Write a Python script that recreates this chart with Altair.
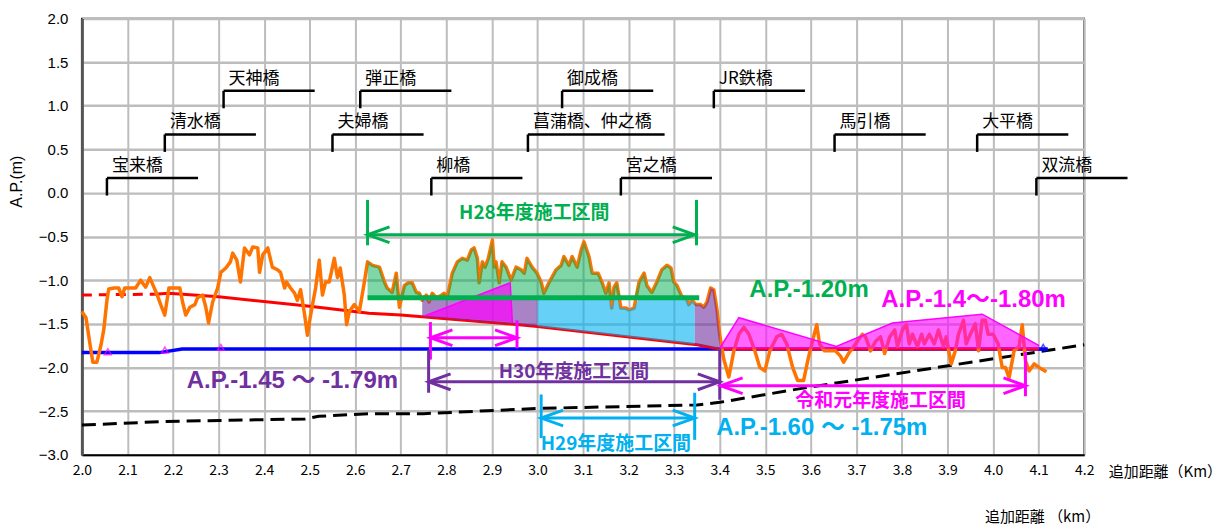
import altair as alt
import numpy as np
import pandas as pd

# ---------------- data ----------------
x_ticks = [2.0, 2.1, 2.2, 2.3, 2.4, 2.5, 2.6, 2.7, 2.8, 2.9, 3.0, 3.1, 3.2, 3.3,
           3.4, 3.5, 3.6, 3.7, 3.8, 3.9, 4.0, 4.1, 4.2]
y_ticks = [-3.0, -2.5, -2.0, -1.5, -1.0, -0.5, 0.0, 0.5, 1.0, 1.5, 2.0]

orange_km = [2.000, 2.009, 2.018, 2.024, 2.033, 2.042, 2.048, 2.055, 2.059, 2.070,
             2.081, 2.088, 2.094, 2.107, 2.118, 2.129, 2.140, 2.149, 2.158, 2.164,
             2.173, 2.182, 2.191, 2.204, 2.215, 2.221, 2.228, 2.237, 2.248, 2.254,
             2.265, 2.272, 2.278, 2.287, 2.298, 2.305, 2.316, 2.326, 2.331, 2.340,
             2.348, 2.357, 2.368, 2.375, 2.386, 2.390, 2.397, 2.408, 2.418, 2.429,
             2.436, 2.445, 2.449, 2.458, 2.467, 2.473, 2.480, 2.489, 2.495, 2.502,
             2.513, 2.521, 2.528, 2.535, 2.543, 2.554, 2.561, 2.567, 2.576, 2.581,
             2.587, 2.598, 2.609, 2.620, 2.627, 2.638, 2.653, 2.664, 2.670, 2.681,
             2.690, 2.697, 2.708, 2.716, 2.725, 2.734, 2.741, 2.747, 2.756, 2.762,
             2.769, 2.778, 2.787, 2.795, 2.802, 2.813, 2.824, 2.835, 2.846, 2.855,
             2.861, 2.868, 2.872, 2.879, 2.885, 2.892, 2.901, 2.905, 2.909, 2.916,
             2.922, 2.931, 2.942, 2.953, 2.964, 2.971, 2.977, 2.988, 2.999, 3.008,
             3.014, 3.025, 3.041, 3.052, 3.058, 3.069, 3.076, 3.087, 3.096, 3.102,
             3.113, 3.120, 3.133, 3.142, 3.150, 3.157, 3.163, 3.168, 3.174, 3.183,
             3.194, 3.201, 3.212, 3.223, 3.234, 3.240, 3.251, 3.262, 3.273, 3.284,
             3.293, 3.299, 3.306, 3.317, 3.326, 3.332, 3.339, 3.348, 3.358, 3.365,
             3.372, 3.380, 3.387, 3.394, 3.400, 3.409, 3.420, 3.431, 3.442, 3.453,
             3.464, 3.477, 3.488, 3.499, 3.510, 3.525, 3.536, 3.547, 3.560, 3.571,
             3.584, 3.595, 3.606, 3.613, 3.619, 3.630, 3.643, 3.654, 3.665, 3.672,
             3.683, 3.694, 3.702, 3.713, 3.720, 3.731, 3.742, 3.753, 3.762, 3.773,
             3.784, 3.790, 3.801, 3.810, 3.816, 3.823, 3.834, 3.843, 3.849, 3.860,
             3.871, 3.880, 3.891, 3.897, 3.908, 3.917, 3.924, 3.935, 3.941, 3.950,
             3.961, 3.968, 3.976, 3.983, 3.989, 4.000, 4.011, 4.020, 4.027, 4.035,
             4.046, 4.057, 4.064, 4.071, 4.079, 4.090, 4.101, 4.117]
orange_ap = [-1.36, -1.43, -1.74, -1.94, -1.94, -1.74, -1.57, -1.23, -1.10, -1.09,
             -1.09, -1.19, -1.09, -1.09, -1.09, -1.00, -1.08, -0.97, -1.08, -1.15,
             -1.28, -1.40, -1.09, -1.09, -1.09, -1.25, -1.40, -1.31, -1.28, -1.20,
             -1.17, -1.31, -1.49, -1.25, -1.09, -0.91, -0.86, -0.79, -0.69, -0.77,
             -1.02, -0.63, -0.71, -0.62, -0.63, -0.91, -0.71, -0.63, -0.85, -0.88,
             -0.91, -1.09, -1.02, -1.09, -1.15, -1.23, -1.11, -1.40, -1.63, -1.40,
             -1.09, -0.77, -1.17, -1.02, -1.02, -0.75, -0.97, -0.86, -1.17, -1.51,
             -1.36, -1.28, -1.36, -1.02, -0.79, -0.83, -0.85, -1.02, -1.09, -1.14,
             -0.92, -1.31, -1.06, -1.03, -1.03, -1.14, -1.15, -1.23, -1.17, -1.25,
             -1.15, -1.20, -1.18, -1.15, -1.19, -0.92, -0.79, -0.75, -0.77, -0.65,
             -0.63, -0.75, -1.03, -0.79, -0.85, -0.75, -0.54, -0.85, -0.79, -1.03,
             -0.79, -0.85, -1.00, -0.85, -0.88, -0.92, -0.75, -0.85, -0.92, -1.02,
             -1.15, -1.03, -0.88, -0.83, -0.73, -0.83, -0.73, -0.85, -0.65, -0.56,
             -0.73, -0.92, -0.92, -1.03, -1.15, -1.03, -1.32, -1.08, -1.03, -1.32,
             -1.32, -1.34, -1.32, -1.02, -0.92, -1.06, -1.14, -1.02, -0.88, -0.83,
             -0.86, -1.02, -1.06, -1.19, -1.20, -1.28, -1.23, -1.28, -1.28, -1.31,
             -1.25, -1.09, -1.11, -1.34, -1.63, -1.91, -2.11, -1.81, -1.62, -1.54,
             -1.62, -1.81, -2.00, -2.04, -1.81, -1.65, -1.62, -1.73, -2.00, -2.15,
             -2.15, -1.88, -1.65, -1.51, -1.73, -1.81, -1.81, -1.81, -1.87, -1.94,
             -1.84, -1.76, -1.70, -1.62, -1.65, -1.81, -1.70, -1.65, -1.84, -1.65,
             -1.57, -1.76, -1.57, -1.51, -1.73, -1.62, -1.76, -1.62, -1.73, -1.62,
             -1.73, -1.57, -1.76, -1.65, -1.96, -1.81, -1.62, -1.46, -1.73, -1.62,
             -1.50, -1.81, -1.46, -1.46, -1.62, -1.62, -1.73, -2.00, -2.00, -2.12,
             -1.81, -1.76, -1.51, -1.92, -2.04, -1.96, -2.00, -2.05]

red_km = [2.00, 2.16, 2.19, 2.30, 2.50, 2.63, 2.70, 2.96, 3.00, 3.35, 3.40, 4.10]
red_ap = [-1.17, -1.16, -1.15, -1.19, -1.30, -1.38, -1.40, -1.51, -1.53, -1.74, -1.79, -1.79]
red_dash_end = 2.16

blue_km = [2.00, 2.17, 2.22, 4.12]
blue_ap = [-1.83, -1.83, -1.79, -1.79]

black_km = [2.00, 2.18, 2.49, 2.52, 2.63, 2.75, 3.00, 3.35, 3.40, 3.58, 4.20]
black_ap = [-2.66, -2.62, -2.59, -2.56, -2.53, -2.53, -2.47, -2.43, -2.40, -2.24, -1.74]

marker_km = [2.057, 2.182, 2.305, 4.110]
marker_ap = [-1.82, -1.80, -1.77, -1.77]
marker_col = ["#FF00FF", "#FF00FF", "#FF00FF", "#0000FF"]

# construction sections (fills)
green_range = [2.627, 3.355]
green_level = -1.20
purple_ranges = [[2.747, 3.000], [3.345, 3.400]]
cyan_range = [3.000, 3.345]

tri_km = [2.752, 2.940, 2.945]
tri_top = [-1.41, -1.03, -1.49]
tri_bot = [-1.41, -1.48, -1.49]

poly_km = [3.400, 3.442, 3.656, 3.779, 3.976, 4.101]
poly_ap = [-1.78, -1.43, -1.76, -1.49, -1.39, -1.75]
poly_base = -1.79

# bridges
bridge_names = ["宝来橋", "清水橋", "天神橋", "夫婦橋", "弾正橋", "柳橋", "菖蒲橋、仲之橋",
                "御成橋", "宮之橋", "JR鉄橋", "馬引橋", "大平橋", "双流橋"]
bridge_km = [2.055, 2.182, 2.311, 2.550, 2.611, 2.767, 2.979, 3.054, 3.183, 3.387,
             3.652, 3.965, 4.095]
bridge_level = [0.17, 0.67, 1.17, 0.67, 1.17, 0.17, 0.67, 1.17, 0.17, 1.17, 0.67, 0.67, 0.17]
bridge_span = [0.2, 0.2, 0.2, 0.2, 0.2, 0.2, 0.3, 0.2, 0.2, 0.2, 0.2, 0.2, 0.2]
bridge_drop = 0.2

GREEN = "#00B050"
PURPLE = "#7030A0"
CYAN = "#00B0F0"
MAGENTA = "#FF00FF"
ORANGE = "#FF7300"

# interval arrows
arrow_x1 = [2.627, 2.765, 2.761, 3.008, 3.402]
arrow_x2 = [3.345, 2.955, 3.400, 3.345, 4.071]
arrow_y = [-0.48, -1.66, -2.165, -2.58, -2.21]
arrow_col = [GREEN, MAGENTA, PURPLE, CYAN, MAGENTA]

tick_km = [2.627, 3.349, 2.765, 2.955, 2.761, 3.400, 3.008, 3.345, 4.071]
tick_top = [-0.08, -0.08, -1.48, -1.46, -1.80, -1.78, -2.31, -2.29, -1.82]
tick_bot = [-0.60, -0.60, -1.91, -1.78, -2.29, -2.37, -2.81, -2.83, -2.33]
tick_col = [GREEN, GREEN, MAGENTA, MAGENTA, PURPLE, PURPLE, CYAN, CYAN, MAGENTA]

label_text = ["H28年度施工区間", "H30年度施工区間", "H29年度施工区間", "令和元年度施工区間"]
label_km = [2.993, 3.080, 3.172, 3.753]
label_ap = [-0.23, -2.05, -2.88, -2.38]
label_col = [GREEN, PURPLE, CYAN, MAGENTA]

level_text = ["A.P.-1.20m", "A.P.-1.4～-1.80m", "A.P.-1.45 ～ -1.79m", "A.P.-1.60 ～ -1.75m"]
level_km = [3.596, 3.957, 2.462, 3.624]
level_ap = [-1.11, -1.23, -2.155, -2.69]
level_col = [GREEN, MAGENTA, PURPLE, CYAN]

# ---------------- tables ----------------
JP = "Noto Sans CJK JP"
LAT = "Liberation Sans, Noto Sans CJK JP"

ok = np.array(orange_km)
oa = np.array(orange_ap)


def segment(x0, x1):
    inside = (ok > x0) & (ok < x1)
    xs = np.concatenate([[x0], ok[inside], [x1]])
    return xs, np.interp(xs, ok, oa)


orange_df = pd.DataFrame({"km": orange_km, "ap": orange_ap})
red_df = pd.DataFrame({"km": red_km, "ap": red_ap})
blue_df = pd.DataFrame({"km": blue_km, "ap": blue_ap})
black_df = pd.DataFrame({"km": black_km, "ap": black_ap})
marker_df = pd.DataFrame({"km": marker_km, "ap": marker_ap, "color": marker_col})

gx, gy = segment(*green_range)
green_df = pd.DataFrame({"km": gx, "top": np.maximum(gy, green_level), "bot": green_level})

px1, py1 = segment(*purple_ranges[0])
purple1_df = pd.DataFrame({"km": px1, "top": np.minimum(py1, green_level),
                           "bot": np.interp(px1, red_km, red_ap)})
px2, py2 = segment(*purple_ranges[1])
purple2_df = pd.DataFrame({"km": px2, "top": py2, "bot": np.interp(px2, red_km, red_ap)})
cx, cy = segment(*cyan_range)
cyan_df = pd.DataFrame({"km": cx, "top": np.minimum(cy, green_level),
                        "bot": np.interp(cx, red_km, red_ap)})
cyan_line_df = red_df[(red_df.km >= cyan_range[0]) & (red_df.km <= cyan_range[1])]

tri_df = pd.DataFrame({"km": tri_km, "top": tri_top, "bot": tri_bot})
poly_df = pd.DataFrame({"km": poly_km, "top": poly_ap, "bot": poly_base})

bridge_df = pd.DataFrame({"name": bridge_names, "km": bridge_km, "level": bridge_level})
bridge_df["end"] = bridge_df.km + np.array(bridge_span)
bridge_df["low"] = bridge_df.level - bridge_drop

arrow_df = pd.DataFrame({"x1": arrow_x1, "x2": arrow_x2, "y": arrow_y, "color": arrow_col})
tick_df = pd.DataFrame({"km": tick_km, "top": tick_top, "bot": tick_bot, "color": tick_col})
label_df = pd.DataFrame({"text": label_text, "km": label_km, "ap": label_ap, "color": label_col})
level_df = pd.DataFrame({"text": level_text, "km": level_km, "ap": level_ap, "color": level_col})
green_line_df = pd.DataFrame({"x1": [green_range[0]], "x2": [green_range[1]], "y": [green_level]})

# ---------------- encodings ----------------
xs = alt.Scale(domain=[2.0, 4.2], nice=False, zero=False)
ys = alt.Scale(domain=[-3.0, 2.0], nice=False, zero=False)

x_axis = alt.Axis(title="追加距離（Km）", values=x_ticks, format=".1f", grid=True,
                  gridColor="#BDBDBD", gridWidth=2, ticks=False, domainColor="black",
                  domainWidth=2, labelFont=JP, labelFontSize=14, labelColor="black",
                  labelPadding=9, labelFlush=False, titleFont=JP, titleFontSize=15,
                  titleFontWeight="normal", titleColor="black", titleX=1028, titleY=17,
                  titleAlign="left", titleBaseline="middle")
y_axis = alt.Axis(title="A.P.(m)", values=y_ticks, format=".1f", grid=True,
                  gridColor="#BDBDBD", gridWidth=2.5, ticks=False, domainColor="#555555",
                  domainWidth=3, labelFont=LAT, labelFontSize=15, labelColor="black",
                  labelPadding=14, labelFlush=False, titleFont=LAT, titleFontSize=16,
                  titleFontWeight="normal", titleColor="black", titleX=-65, titleY=163,
                  titleAlign="center", titleBaseline="middle")


def X(f="km"):
    return alt.X(f, type="quantitative", scale=xs, axis=x_axis)


def Y(f="ap"):
    return alt.Y(f, type="quantitative", scale=ys, axis=y_axis)


col = alt.Color("color:N", scale=None)

layers = []
layers.append(alt.Chart(black_df).mark_line(color="black", strokeWidth=3, strokeDash=[14, 7])
              .encode(x=X(), y=Y()))
layers.append(alt.Chart(blue_df).mark_line(color="#0000FF", strokeWidth=3.5)
              .encode(x=X(), y=Y()))
layers.append(alt.Chart(red_df[red_df.km <= red_dash_end])
              .mark_line(color="#FF0000", strokeWidth=3, strokeDash=[10, 7])
              .encode(x=X(), y=Y()))
layers.append(alt.Chart(red_df[red_df.km >= red_dash_end])
              .mark_line(color="#FF0000", strokeWidth=3).encode(x=X(), y=Y()))
layers.append(alt.Chart(orange_df).mark_line(color=ORANGE, strokeWidth=3.5, strokeJoin="round")
              .encode(x=X(), y=Y()))
layers.append(alt.Chart(marker_df).mark_point(shape="triangle-up", size=45, filled=False,
                                              strokeWidth=1.5)
              .encode(x=X(), y=Y(), color=col))

# fills
layers.append(alt.Chart(green_df).mark_area(color=GREEN, opacity=0.5)
              .encode(x=X(), y=Y("top"), y2=alt.Y2("bot")))
layers.append(alt.Chart(purple1_df).mark_area(color=PURPLE, opacity=0.6)
              .encode(x=X(), y=Y("top"), y2=alt.Y2("bot")))
layers.append(alt.Chart(purple2_df).mark_area(color=PURPLE, opacity=0.6)
              .encode(x=X(), y=Y("top"), y2=alt.Y2("bot")))
layers.append(alt.Chart(cyan_df).mark_area(color=CYAN, opacity=0.6)
              .encode(x=X(), y=Y("top"), y2=alt.Y2("bot")))
layers.append(alt.Chart(cyan_line_df).mark_line(color=CYAN, strokeWidth=4)
              .encode(x=X(), y=Y()))
layers.append(alt.Chart(tri_df).mark_area(color=MAGENTA, opacity=0.7, line=False)
              .encode(x=X(), y=Y("top"), y2=alt.Y2("bot")))
layers.append(alt.Chart(tri_df).mark_line(color=MAGENTA, strokeWidth=1.5)
              .encode(x=X(), y=Y("top")))
layers.append(alt.Chart(poly_df).mark_area(color=MAGENTA, opacity=0.6)
              .encode(x=X(), y=Y("top"), y2=alt.Y2("bot")))
layers.append(alt.Chart(poly_df).mark_line(color=MAGENTA, strokeWidth=1.5)
              .encode(x=X(), y=Y("top")))
layers.append(alt.Chart(green_line_df).mark_rule(color=GREEN, strokeWidth=5)
              .encode(x=X("x1"), x2=alt.X2("x2"), y=Y("y")))

# interval arrows
layers.append(alt.Chart(arrow_df).mark_rule(strokeWidth=3)
              .encode(x=X("x1"), x2=alt.X2("x2"), y=Y("y"), color=col))
layers.append(alt.Chart(tick_df).mark_rule(strokeWidth=3)
              .encode(x=X(), y=Y("top"), y2=alt.Y2("bot"), color=col))
layers.append(alt.Chart(arrow_df).mark_point(shape="M1,-0.36L0,0L1,0.36", size=1936,
                                             filled=False, strokeWidth=3, opacity=1)
              .encode(x=X("x1"), y=Y("y"), color=col))
layers.append(alt.Chart(arrow_df).mark_point(shape="M-1,-0.36L0,0L-1,0.36", size=1936,
                                             filled=False, strokeWidth=3, opacity=1)
              .encode(x=X("x2"), y=Y("y"), color=col))

# bridges
layers.append(alt.Chart(bridge_df).mark_rule(color="black", strokeWidth=2.5, clip=False)
              .encode(x=X(), x2=alt.X2("end"), y=Y("level")))
layers.append(alt.Chart(bridge_df).mark_rule(color="black", strokeWidth=2.5, clip=False)
              .encode(x=X(), y=Y("level"), y2=alt.Y2("low")))
layers.append(alt.Chart(bridge_df).mark_text(align="left", baseline="bottom", dx=5, dy=-3,
                                             font=JP, fontSize=17, color="black", clip=False)
              .encode(x=X(), y=Y("level"), text="name:N"))

# text labels
layers.append(alt.Chart(label_df).mark_text(align="center", baseline="middle", font=JP,
                                            fontSize=19, fontWeight="bold")
              .encode(x=X(), y=Y(), text="text:N", color=col))
layers.append(alt.Chart(level_df).mark_text(align="center", baseline="middle", font=LAT,
                                            fontSize=24, fontWeight="bold")
              .encode(x=X(), y=Y(), text="text:N", color=col))

chart = alt.layer(*layers).properties(
    width=1004,
    height=437,
    padding={"left": 74, "top": 10, "right": 140, "bottom": 74},
    autosize=alt.AutoSizeParams(type="none"),
    title=alt.TitleParams("追加距離 （km）", orient="bottom", anchor="end", frame="group",
                          font=JP, fontSize=15, fontWeight="normal", color="black",
                          dx=16, offset=30),
).configure_view(stroke="black", strokeWidth=1.5)

chart.save("out.html", embed_options={"renderer": "svg", "actions": False})
